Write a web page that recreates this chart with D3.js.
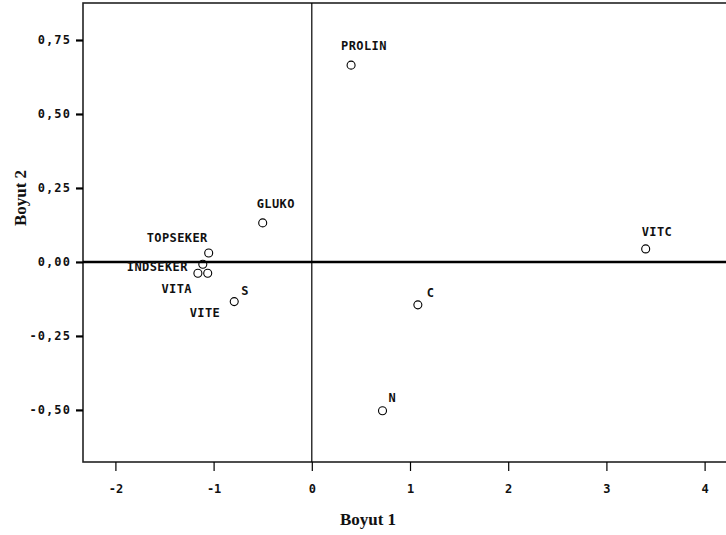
<!DOCTYPE html>
<html>
<head>
<meta charset="utf-8">
<script src="https://cdn.jsdelivr.net/npm/d3@7"></script>
<style>
  html, body { margin: 0; padding: 0; background: #fff; }
  svg { display: block; }
  .lbl { font-family: "DejaVu Sans Mono", monospace; font-size: 12px; font-weight: bold; fill: #111; letter-spacing: 0.4px; }
  .title { font-family: "Liberation Serif", "Times New Roman", serif; font-size: 17px; font-weight: bold; fill: #111; }
</style>
</head>
<body>
<script>
// ---- data ----
const names = ["PROLIN", "GLUKO", "TOPSEKER", "INDSEKER", "VITA", "VITE", "S", "C", "N", "VITC"];
const dim1  = [0.40, -0.50, -1.05, -1.11, -1.16, -1.06, -0.79, 1.08, 0.72, 3.40];
const dim2  = [0.665, 0.132, 0.030, -0.008, -0.038, -0.038, -0.134, -0.145, -0.503, 0.044];
const xTicks = [-2, -1, 0, 1, 2, 3, 4];
const yTicks = [-0.50, -0.25, 0.00, 0.25, 0.50, 0.75];
const xTitle = "Boyut 1";
const yTitle = "Boyut 2";

// label placement (pixel offsets from point, anchor)
const labelOffsets = [
  [-10, -15, "start"], [-6, -15, "start"], [-1, -11, "end"], [-15, 7, "end"],
  [-6, 20, "end"], [-18, 44, "start"], [7, -7, "start"], [9, -8, "start"],
  [6, -9, "start"], [-4, -13, "start"]
];

const W = 726, H = 535;
const svg = d3.select("body").append("svg").attr("width", W).attr("height", H);
svg.append("rect").attr("width", W).attr("height", H).attr("fill", "#fff");

const pLeft = 83, pTop = 3, pBottom = 462;
const x = d3.scaleLinear().domain([-2.33, 4.4]).range([pLeft, pLeft + 6.73 * 98.2]);
const y = d3.scaleLinear().domain([-0.676, 0.875]).range([pBottom, pTop]);
const pRight = x.range()[1];

// frame
svg.append("rect").attr("x", pLeft).attr("y", pTop).attr("width", pRight - pLeft).attr("height", pBottom - pTop)
  .attr("fill", "none").attr("stroke", "#222").attr("stroke-width", 1.6);

// reference lines
svg.append("line").attr("x1", x(0)).attr("x2", x(0)).attr("y1", pTop).attr("y2", pBottom)
  .attr("stroke", "#000").attr("stroke-width", 1.2);
svg.append("line").attr("x1", pLeft).attr("x2", pRight).attr("y1", y(0)).attr("y2", y(0))
  .attr("stroke", "#000").attr("stroke-width", 2.5);

// axes
const fmtY = v => d3.format(".2f")(v).replace(".", ",").replace("\u2212", "-");
const yAxis = d3.axisLeft(y).tickValues(yTicks).tickFormat(fmtY).tickSize(7).tickPadding(5);
const gy = svg.append("g").attr("transform", `translate(${pLeft},0)`).call(yAxis);
gy.select(".domain").remove();
gy.selectAll(".tick line").attr("stroke", "#000").attr("stroke-width", 2.2);
gy.selectAll(".tick text")
  .style("font-family", "'DejaVu Sans Mono', monospace").style("font-size", "12px")
  .style("font-weight", "bold").style("letter-spacing", "1.1px").attr("fill", "#111");

const fmtX = v => d3.format("d")(v).replace("\u2212", "-");
const xAxis = d3.axisBottom(x).tickValues(xTicks).tickFormat(fmtX).tickSize(9).tickPadding(13);
const gx = svg.append("g").attr("transform", `translate(0,${pBottom})`).call(xAxis);
gx.select(".domain").remove();
gx.selectAll(".tick line").attr("stroke", "#000").attr("stroke-width", 1.2);
gx.selectAll(".tick text").style("font-family", "'DejaVu Sans Mono', monospace").style("font-size", "12px")
  .style("font-weight", "bold").attr("fill", "#111");

// titles
svg.append("text").attr("class", "title").attr("x", 368).attr("y", 525)
  .attr("text-anchor", "middle").text(xTitle);
svg.append("text").attr("class", "title").attr("transform", "translate(26,198) rotate(-90)")
  .attr("text-anchor", "middle").text(yTitle);

// points
const pts = names.map((n, i) => ({ n, a: dim1[i], b: dim2[i], o: labelOffsets[i] }));
svg.append("g").selectAll("circle").data(pts).join("circle")
  .attr("cx", d => x(d.a)).attr("cy", d => y(d.b)).attr("r", 4)
  .attr("fill", "none").attr("stroke", "#000").attr("stroke-width", 1.1);

svg.append("g").selectAll("text").data(pts).join("text")
  .attr("class", "lbl")
  .attr("x", d => x(d.a) + d.o[0]).attr("y", d => y(d.b) + d.o[1])
  .attr("text-anchor", d => d.o[2]).text(d => d.n);
</script>
</body>
</html>
